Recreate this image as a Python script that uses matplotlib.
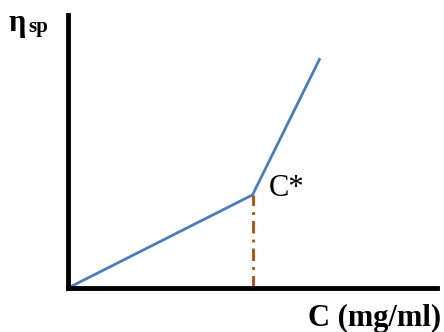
import matplotlib
matplotlib.use('Agg')
import matplotlib.pyplot as plt

# concentration (arbitrary units) and specific viscosity
conc = [0.0, 5.0, 6.83]
eta_sp = [0.0, 3.41, 8.42]
c_star = 5.0
c_star_eta = 3.41

fig = plt.figure(figsize=(4.44, 3.32), dpi=100)
ax = fig.add_axes([68 / 444, 44 / 332, 369 / 444, 273 / 332])
ax.set_xlim(0, 10)
ax.set_ylim(0, 10)

ax.plot(conc, eta_sp, color='#4a7ebb', lw=2.0, solid_capstyle='butt')
ax.plot([c_star, c_star], [0, c_star_eta], color='#a0521e', lw=2.0,
        linestyle=(0, (4.5, 2.2, 1, 2.2)))

for side in ['top', 'right']:
    ax.spines[side].set_visible(False)
for side in ['left', 'bottom']:
    ax.spines[side].set_linewidth(3.5)
    ax.spines[side].set_color('black')
ax.set_xticks([])
ax.set_yticks([])
ax.patch.set_alpha(0)

serif = 'Liberation Serif'
fig.text(9 / 444, 1 - 31 / 332, 'η', fontsize=22, family=serif,
         fontweight='bold', va='baseline')
fig.text(28 / 444, 1 - 32 / 332, 'sp', fontsize=15, family=serif,
         fontweight='bold', va='baseline')
ax.text(c_star + 0.45, c_star_eta - 0.05, 'C*', fontsize=22, family=serif)
fig.text(441 / 444, 1 - 326 / 332, 'C (mg/ml)', fontsize=22, family=serif,
         fontweight='bold', ha='right', va='baseline')

fig.savefig('out.png', dpi=100)
